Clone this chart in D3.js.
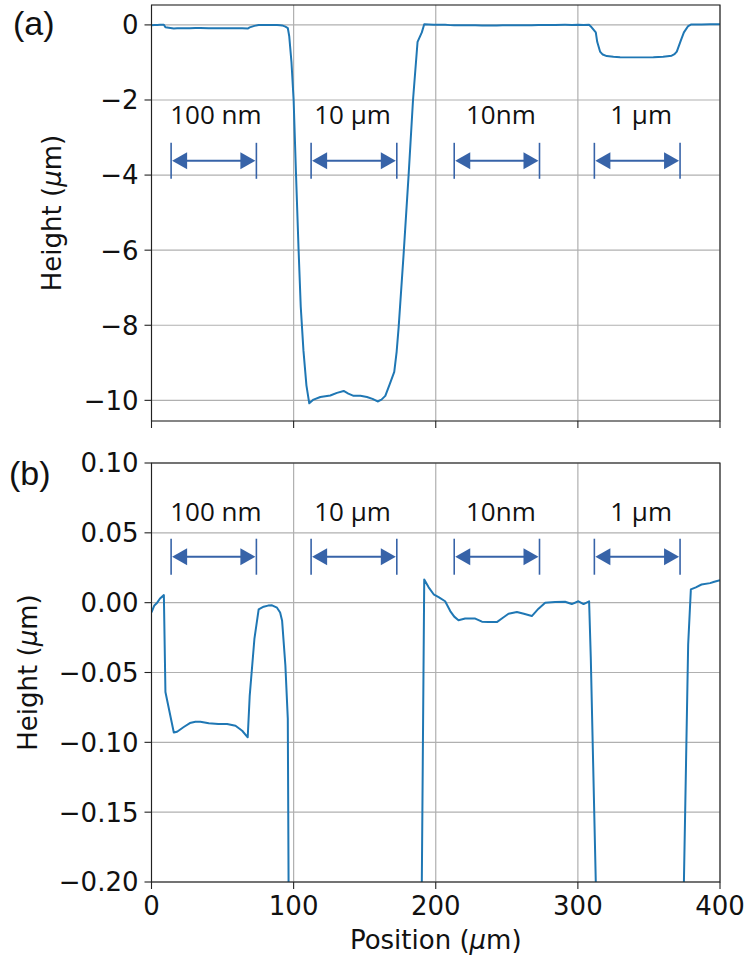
<!DOCTYPE html>
<html>
<head>
<meta charset="utf-8">
<script src="https://cdn.jsdelivr.net/npm/d3@7"></script>
<style>
  html, body { margin: 0; padding: 0; background: #fff; }
  svg { display: block; }
</style>
</head>
<body>
<svg id="chart" width="748" height="959"></svg>
<script>
// Surface profile: position along the scan (µm) and measured height (µm)
const positions = [
  0, 2, 4, 6, 8.7, 9.8, 15.7, 18, 22.7, 27, 30.9, 34.4, 40.3, 47, 53.2, 59.1, 63.8, 67.7,
  69.1, 72.4, 75.4, 78.9, 82, 84.8, 88.3, 90.5, 91.9, 94.2, 95.9, 96.9, 98.5, 100, 101.7,
  103.5, 105, 106.9, 109, 111, 114, 118.8, 125.8, 130.5, 135.2, 138.5, 142.2, 147, 151.6,
  155.5, 159.1, 161.8, 164.5, 167.5, 170.8, 172.5, 173.9, 177.4, 180.9, 184, 187.2, 190.2,
  191.9, 195, 198.5, 202, 206.6, 210.2, 213, 216, 220.7, 227.8, 232.5, 237, 243, 247,
  251.2, 257.1, 262, 267.6, 272.3, 277, 284, 291, 295.7, 300.4, 304, 307.9, 309.1, 312.6,
  313.6, 315.6, 317.5, 320.3, 325, 329.7, 340, 353.1, 360, 366, 368, 369.6, 372.6, 374.6,
  377.6, 379.5, 383, 387, 393, 396, 400
];
const heights = [
  -0.007, -0.002, 0.0, 0.003, 0.0054, -0.064, -0.093, -0.0924, -0.089, -0.0862, -0.0853,
  -0.0853, -0.0864, -0.0868, -0.0869, -0.0881, -0.0917, -0.0964,
  -0.0667, -0.026, -0.0048, -0.0029, -0.0021, -0.0019, -0.0036, -0.007, -0.013, -0.045,
  -0.083, -0.3, -1.0, -2.0, -4.0,
  -6.0, -7.5, -8.67, -9.6, -10.08, -9.98, -9.91, -9.87, -9.8, -9.75, -9.82, -9.88, -9.88, -9.91,
  -9.96, -10.03, -9.98, -9.88, -9.58, -9.24, -8.7, -8.05, -6.1, -4.0, -2.0, -0.45, -0.2,
  0.0166, 0.011, 0.006, 0.004, 0.001, -0.006, -0.01, -0.0126, -0.0114, -0.0114, -0.0136,
  -0.0138, -0.0139, -0.011,
  -0.0079, -0.0067, -0.008, -0.0096, -0.0043, 0.0, 0.0005, 0.0007, -0.001, 0.001, -0.001,
  0.001, -0.04, -0.2,
  -0.45, -0.71, -0.79, -0.83, -0.85, -0.86, -0.865, -0.86, -0.85, -0.82, -0.78, -0.71, -0.4,
  -0.2, -0.03, 0.0095, 0.011, 0.013, 0.014, 0.015, 0.016
];

// Etched features: start/end of each dimension arrow (µm) and their captions
const spanStarts = [13.8, 112.3, 213.0, 311.6];
const spanEnds = [73.8, 172.6, 273.0, 371.9];
const spanLabels = ["100 nm", "10 µm", "10nm", "1 µm"];
const spanLabelCenters = [45.3, 141.4, 245.8, 344.5];

// Tick values
const xTicks = [0, 100, 200, 300, 400];
const yTicksA = [0, -2, -4, -6, -8, -10];
const yTicksB = [0.10, 0.05, 0.00, -0.05, -0.10, -0.15, -0.20];

const profile = positions.map((p, i) => ({ x: p, y: heights[i] }));

const svg = d3.select("#chart");
const LINE = "#1f77b4";
const ARROW = "#3763a8";
const GRID = "#b0b0b0";
const TICK_FONT = "'DejaVu Sans', sans-serif";
const NOTE_FONT = "'Open Sans', 'Liberation Sans', sans-serif";

const x = d3.scaleLinear().domain([0, 400]).range([151.5, 720]);

const panels = [
  {
    id: "a", tag: "(a)", tagX: 13, tagY: 35, labelX: 61,
    domain: [-10.55, 0.53], range: [421, 5],
    ticks: yTicksA, fmt: d3.format("d"),
    arrowLevel: -3.62, labelLevel: -2.65, showX: false
  },
  {
    id: "b", tag: "(b)", tagX: 9, tagY: 485, labelX: 37,
    domain: [-0.2, 0.1], range: [882, 463],
    ticks: yTicksB, fmt: d3.format(".2f"),
    arrowLevel: 0.0329, labelLevel: 0.0585, showX: true
  }
];

panels.forEach(p => {
  const y = d3.scaleLinear().domain(p.domain).range(p.range);
  const [x0, x1] = x.range();
  const top = p.range[1], bottom = p.range[0];
  const g = svg.append("g").attr("class", "panel-" + p.id);

  g.append("clipPath").attr("id", "clip-" + p.id)
    .append("rect").attr("x", x0).attr("y", top)
    .attr("width", x1 - x0).attr("height", bottom - top);

  // grid
  const grid = g.append("g").attr("stroke", GRID).attr("stroke-width", 1.2);
  grid.selectAll("line.gy").data(p.ticks).join("line")
    .attr("x1", x0).attr("x2", x1)
    .attr("y1", d => y(d)).attr("y2", d => y(d));
  grid.selectAll("line.gx").data(xTicks).join("line")
    .attr("x1", d => x(d)).attr("x2", d => x(d))
    .attr("y1", top).attr("y2", bottom);

  // profile
  const line = d3.line().x(d => x(d.x)).y(d => y(d.y));
  g.append("path").datum(profile)
    .attr("clip-path", "url(#clip-" + p.id + ")")
    .attr("d", line)
    .attr("fill", "none")
    .attr("stroke", LINE)
    .attr("stroke-width", 2)
    .attr("stroke-linejoin", "round");

  // dimension arrows
  const ay = y(p.arrowLevel);
  const notes = g.append("g");
  spanStarts.forEach((s, i) => {
    const xa = x(s), xb = x(spanEnds[i]);
    const head = 15, half = 8.5;
    notes.append("line").attr("x1", xa).attr("x2", xa)
      .attr("y1", ay - 18).attr("y2", ay + 18)
      .attr("stroke", ARROW).attr("stroke-width", 1.6);
    notes.append("line").attr("x1", xb).attr("x2", xb)
      .attr("y1", ay - 18).attr("y2", ay + 18)
      .attr("stroke", ARROW).attr("stroke-width", 1.6);
    notes.append("line").attr("x1", xa + head).attr("x2", xb - head)
      .attr("y1", ay).attr("y2", ay)
      .attr("stroke", ARROW).attr("stroke-width", 2);
    notes.append("path")
      .attr("d", `M${xa + 1},${ay} L${xa + 1 + head},${ay - half} L${xa + 1 + head},${ay + half} Z`)
      .attr("fill", ARROW);
    notes.append("path")
      .attr("d", `M${xb - 1},${ay} L${xb - 1 - head},${ay - half} L${xb - 1 - head},${ay + half} Z`)
      .attr("fill", ARROW);
    notes.append("text")
      .attr("x", x(spanLabelCenters[i])).attr("y", y(p.labelLevel))
      .attr("text-anchor", "middle")
      .attr("font-family", NOTE_FONT).attr("font-size", 26)
      .attr("fill", "#111")
      .text(spanLabels[i]);
  });

  // frame
  g.append("rect").attr("x", x0).attr("y", top)
    .attr("width", x1 - x0).attr("height", bottom - top)
    .attr("fill", "none").attr("stroke", "#222").attr("stroke-width", 1.1);

  // y ticks
  const yt = g.append("g");
  yt.selectAll("line").data(p.ticks).join("line")
    .attr("x1", x0 - 7).attr("x2", x0)
    .attr("y1", d => y(d)).attr("y2", d => y(d))
    .attr("stroke", "#222").attr("stroke-width", 1.1);
  yt.selectAll("text").data(p.ticks).join("text")
    .attr("x", x0 - 13).attr("y", d => y(d))
    .attr("dy", "0.36em")
    .attr("text-anchor", "end")
    .attr("font-family", TICK_FONT).attr("font-size", 26)
    .attr("fill", "#111")
    .text(d => p.fmt(d));

  // x ticks
  const xt = g.append("g");
  xt.selectAll("line").data(xTicks).join("line")
    .attr("x1", d => x(d)).attr("x2", d => x(d))
    .attr("y1", bottom).attr("y2", bottom + 7)
    .attr("stroke", "#222").attr("stroke-width", 1.1);
  if (p.showX) {
    xt.selectAll("text").data(xTicks).join("text")
      .attr("x", d => x(d)).attr("y", bottom + 33)
      .attr("text-anchor", "middle")
      .attr("font-family", TICK_FONT).attr("font-size", 26)
      .attr("fill", "#111")
      .text(d => d3.format("d")(d));
  }

  // y label
  const yl = g.append("text")
    .attr("transform", `translate(${p.labelX},${(top + bottom) / 2}) rotate(-90)`)
    .attr("text-anchor", "middle")
    .attr("font-family", TICK_FONT).attr("font-size", 26)
    .attr("fill", "#111");
  yl.append("tspan").text("Height (");
  yl.append("tspan").attr("font-style", "italic").text("µ");
  yl.append("tspan").text("m)");

  // panel tag
  g.append("text").attr("x", p.tagX).attr("y", p.tagY)
    .attr("font-family", "'Liberation Sans', Arial, sans-serif")
    .attr("font-size", 34).attr("fill", "#111")
    .text(p.tag);
});

// shared x label
const xl = svg.append("text")
  .attr("x", x(200)).attr("y", 949)
  .attr("text-anchor", "middle")
  .attr("font-family", TICK_FONT).attr("font-size", 26)
  .attr("fill", "#111");
xl.append("tspan").text("Position (");
xl.append("tspan").attr("font-style", "italic").text("µ");
xl.append("tspan").text("m)");
</script>
</body>
</html>
